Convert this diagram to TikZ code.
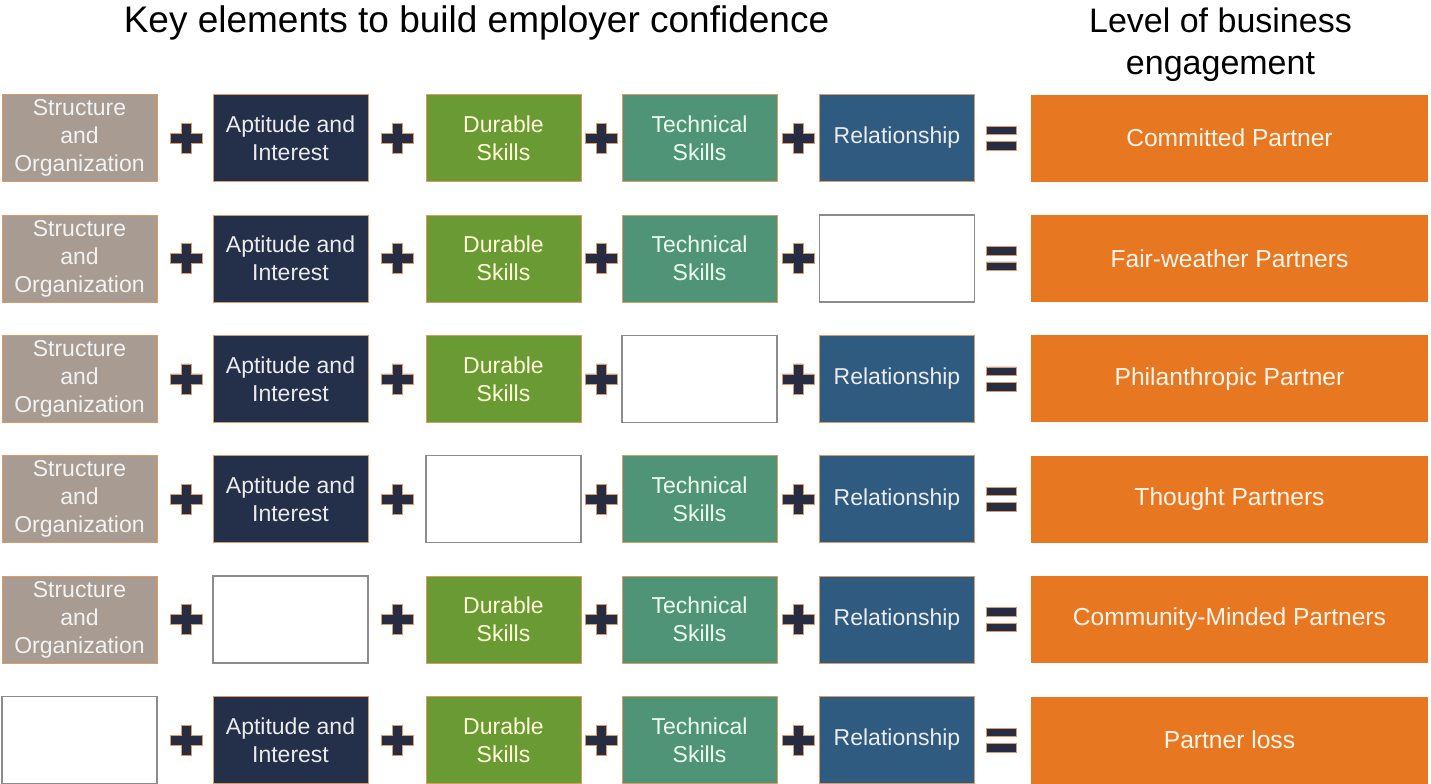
\documentclass[tikz,border=0pt]{standalone}
\usepackage{fontspec}
\setmainfont{Liberation Sans}

\definecolor{structgray}{HTML}{A89B92}
\definecolor{aptnavy}{HTML}{24304A}
\definecolor{durgreen}{HTML}{6A9A34}
\definecolor{techteal}{HTML}{509478}
\definecolor{relblue}{HTML}{2F5B80}
\definecolor{partnerorange}{HTML}{E87722}
\definecolor{edgeorange}{HTML}{DE9A62}
\definecolor{blankgray}{HTML}{8C8C8C}
\definecolor{opnavy}{HTML}{262C42}

\begin{document}
\begin{tikzpicture}[x=0.5pt, y=-0.5pt,
    base/.style = {rectangle, draw=edgeorange, line width=0.4pt,
minimum width=77.5pt, minimum height=43.5pt, inner sep=0pt,
align=center, font=\fontsize{11.5}{14}\selectfont},
    structure/.style = {base, fill=structgray, text=black!5!white},
    aptitude/.style = {base, fill=aptnavy, text=black!8!white},
    durable/.style = {base, fill=durgreen, text=yellow!15!white},
    technical/.style = {base, fill=techteal, text=green!8!white},
    relation/.style = {base, fill=relblue, text=black!8!white},
    blank/.style = {base, fill=white, draw=blankgray, line width=0.75pt},
    partner/.style = {base, fill=partnerorange, draw=none, minimum width=198.5pt,
font=\fontsize{12.3}{15}\selectfont, text=orange!8!white},
    plussign/.style = {minimum size=17pt, inner sep=0pt, path picture={
\filldraw[fill=opnavy, draw=edgeorange, line width=0.3pt, shift={(path picture bounding box.center)}]
(-8pt,-2.5pt) -- (-2.5pt,-2.5pt) -- (-2.5pt,-7.5pt) -- (2.5pt,-7.5pt) -- (2.5pt,-2.5pt) -- (8pt,-2.5pt)
-- (8pt,2.5pt) -- (2.5pt,2.5pt) -- (2.5pt,7.5pt) -- (-2.5pt,7.5pt) -- (-2.5pt,2.5pt) -- (-8pt,2.5pt) -- cycle;}},
    equalsign/.style = {minimum size=17pt, inner sep=0pt, path picture={
\filldraw[fill=opnavy, draw=edgeorange, line width=0.3pt, shift={(path picture bounding box.center)}]
(-7.5pt,1.75pt) rectangle (7.5pt,6pt) (-7.5pt,-1.75pt) rectangle (7.5pt,-6pt);}},
    node distance=60.2pt
]
  \useasboundingbox (0,0) rectangle (1431,783);

  % headings
  \node (keytitle) [font=\fontsize{18.5}{20}\selectfont, anchor=base] at (476.5,32) {Key elements to build employer confidence};
  \node (leveltitle) [font=\fontsize{17}{21}\selectfont, align=center, anchor=base] at (1220.5,74) {Level of business\\engagement};

  % row 1
  \node (s1) [structure] at (79.5,138) {Structure\\and\\Organization};
  \node (a1) [aptitude]  at (290.5,138) {Aptitude and\\Interest};
  \node (d1) [durable]   at (503.5,138) {Durable\\Skills};
  \node (t1) [technical] at (699.5,138) {Technical\\Skills};
  \node (r1) [relation]  at (897,138) {Relationship};
  \node (p1) [partner]   at (1229.5,138) {Committed Partner};

  % row 2
  \node (s2) [structure, below of=s1] {Structure\\and\\Organization};
  \node (a2) [aptitude,  below of=a1] {Aptitude and\\Interest};
  \node (d2) [durable,   below of=d1] {Durable\\Skills};
  \node (t2) [technical, below of=t1] {Technical\\Skills};
  \node (r2) [blank,     below of=r1] {};
  \node (p2) [partner,   below of=p1] {Fair-weather Partners};

  % row 3
  \node (s3) [structure, below of=s2] {Structure\\and\\Organization};
  \node (a3) [aptitude,  below of=a2] {Aptitude and\\Interest};
  \node (d3) [durable,   below of=d2] {Durable\\Skills};
  \node (t3) [blank,     below of=t2] {};
  \node (r3) [relation,  below of=r2] {Relationship};
  \node (p3) [partner,   below of=p2] {Philanthropic Partner};

  % row 4
  \node (s4) [structure, below of=s3] {Structure\\and\\Organization};
  \node (a4) [aptitude,  below of=a3] {Aptitude and\\Interest};
  \node (d4) [blank,     below of=d3] {};
  \node (t4) [technical, below of=t3] {Technical\\Skills};
  \node (r4) [relation,  below of=r3] {Relationship};
  \node (p4) [partner,   below of=p3] {Thought Partners};

  % row 5
  \node (s5) [structure, below of=s4] {Structure\\and\\Organization};
  \node (a5) [blank,     below of=a4] {};
  \node (d5) [durable,   below of=d4] {Durable\\Skills};
  \node (t5) [technical, below of=t4] {Technical\\Skills};
  \node (r5) [relation,  below of=r4] {Relationship};
  \node (p5) [partner,   below of=p4] {Community-Minded Partners};

  % row 6
  \node (s6) [blank,     below of=s5] {};
  \node (a6) [aptitude,  below of=a5] {Aptitude and\\Interest};
  \node (d6) [durable,   below of=d5] {Durable\\Skills};
  \node (t6) [technical, below of=t5] {Technical\\Skills};
  \node (r6) [relation,  below of=r5] {Relationship};
  \node (p6) [partner,   below of=p5] {Partner loss};

  % plus and equals signs
  \foreach \r in {1,...,6} {
    \pgfmathsetmacro{\y}{138+120.4*(\r-1)}
    \foreach \x [count=\c] in {186,397,601,798}
      \node (plus\r-\c) [plussign] at (\x,\y) {};
    \node (eq\r) [equalsign] at (1001,\y) {};
  }

\end{tikzpicture}
\end{document}
